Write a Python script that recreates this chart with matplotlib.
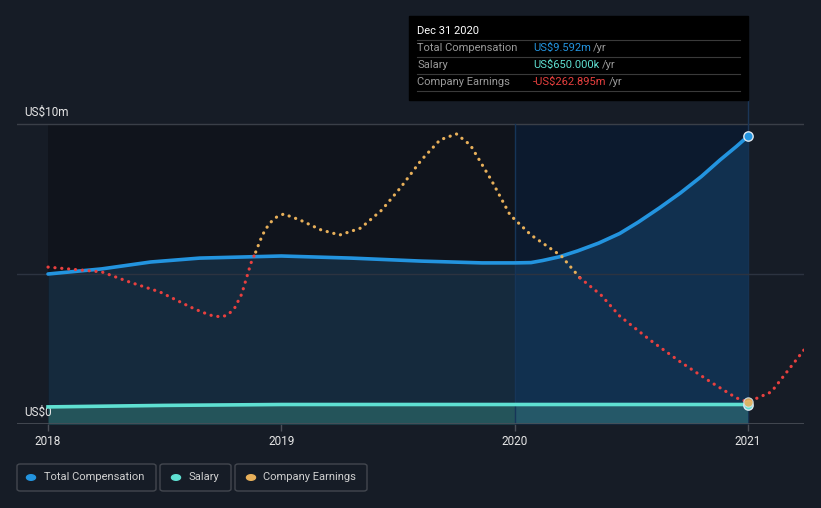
import matplotlib.pyplot as plt
from matplotlib.patches import FancyBboxPatch, Rectangle
import numpy as np

plt.rcParams['font.family'] = ['Roboto', 'DejaVu Sans']

# values in US$ millions
comp_x = [2018.00, 2018.23, 2018.44, 2018.65, 2019.00, 2019.30, 2019.60, 2019.86,
          2020.00, 2020.07, 2020.12, 2020.19, 2020.27, 2020.36, 2020.45, 2020.53,
          2020.62, 2020.71, 2020.80, 2020.88, 2020.95, 2021.00]
comp_y = [5.00, 5.17, 5.40, 5.53, 5.60, 5.53, 5.43, 5.37,
          5.37, 5.38, 5.45, 5.57, 5.77, 6.03, 6.35, 6.73,
          7.20, 7.70, 8.25, 8.80, 9.25, 9.592]

salary_x = [2018.0, 2018.5, 2019.0, 2020.0, 2021.0]
salary_y = [0.57, 0.62, 0.65, 0.65, 0.65]

# earnings drawn on the chart's own scale (its zero sits at 5.55)
earn_x = [2018.00, 2018.23, 2018.35, 2018.48, 2018.61, 2018.66, 2018.70, 2018.74,
          2018.77, 2018.80, 2018.83, 2018.85, 2018.87, 2018.89, 2018.91, 2018.93,
          2018.955, 2018.98, 2019.01, 2019.08, 2019.17, 2019.25,
          2019.34, 2019.43, 2019.51, 2019.60, 2019.68, 2019.75, 2019.81, 2019.90,
          2019.98, 2020.07, 2020.20, 2020.28, 2020.37, 2020.45, 2020.58, 2020.71,
          2020.84, 2020.95, 2021.00, 2021.10, 2021.18, 2021.25]
earn_y = [5.23, 5.07, 4.73, 4.40, 3.90, 3.73, 3.62, 3.57,
          3.63, 3.87, 4.33, 4.85, 5.37, 5.73, 6.13, 6.47,
          6.73, 6.90, 7.00, 6.80, 6.47, 6.30,
          6.53, 7.13, 7.87, 8.80, 9.47, 9.67, 9.30, 8.13,
          6.97, 6.30, 5.60, 4.87, 4.30, 3.60, 2.80, 2.07,
          1.40, 0.87, 0.73, 1.07, 1.87, 2.57]
earn_zero = 5.55

years = [2018, 2019, 2020, 2021]

BG = '#161c26'
BLUE = '#2394df'
TEAL = '#5fe0d2'
ORANGE = '#e8b05a'
RED = '#e8403f'

fig = plt.figure(figsize=(8.21, 5.08), dpi=100, facecolor=BG)
W, H = 821, 508
ax = fig.add_axes([17 / W, 1 - 424 / H, 787 / W, 408 / H])
ax.set_facecolor(BG)
ax.set_xlim(2017.867, 2021.24)
ax.set_ylim(0, 13.6)
for s in ax.spines.values():
    s.set_visible(False)

# background bands
ax.axvspan(2018, 2020, ymax=10 / 13.6, color='#10141c', zorder=0, lw=0)
ax.axvspan(2020, 2021, ymax=10 / 13.6, color='#0c1a2e', zorder=0, lw=0)

# grid
ax.axhline(10, color='#3a3f48', lw=1, zorder=1)
ax.axhline(5, color='#2c3340', lw=1, zorder=4)
ax.axhline(0, color='#4a4f58', lw=1.2, zorder=5)
ax.plot([2021, 2021], [0, 10.8], color='#1b3658', lw=1, zorder=1)
ax.plot([2020, 2020], [0, 10.0], color='#163558', lw=1, zorder=4)

# fills
cx = np.array(comp_x)
cy = np.array(comp_y)
left = cx <= 2020
right = cx >= 2020
ax.fill_between(cx[left], 0, cy[left], color='#152a3d', lw=0, zorder=2)
ax.fill_between(cx[right], 0, cy[right], color='#11304f', lw=0, zorder=2)
sx = np.array(salary_x)
sy = np.array(salary_y)
ax.fill_between(sx[sx <= 2020], 0, sy[sx <= 2020], color='#24545a', lw=0, zorder=3)
ax.fill_between(sx[sx >= 2020], 0, sy[sx >= 2020], color='#255868', lw=0, zorder=3)

ax.plot(comp_x, comp_y, color=BLUE, lw=2.6, zorder=6, solid_capstyle='round')
ax.plot(salary_x, salary_y, color=TEAL, lw=2.6, zorder=6)

# earnings: orange when positive, red when negative
ex = np.array(earn_x)
ey = np.array(earn_y)
above = ey > earn_zero
runs = []
start = 0
for i in range(1, len(ex)):
    if above[i] != above[start]:
        runs.append((start, i, above[start]))
        start = i
runs.append((start, len(ex) - 1, above[start]))
for a, b, up in runs:
    ax.plot(ex[a:b + 1], ey[a:b + 1], color=ORANGE if up else RED, lw=2.3,
            linestyle=(0, (0.05, 2.1)), dash_capstyle='round', zorder=7)

# end markers
ax.scatter([2021], [comp_y[-1]], s=45, color=BLUE, edgecolor='#dfe8f0', lw=1, zorder=9)
ax.scatter([2021], [salary_y[-1]], s=45, color=TEAL, edgecolor='#dfe8f0', lw=1, zorder=9)
ax.scatter([2021], [0.73], s=45, color=ORANGE, edgecolor='#cfe0e8', lw=0.8,
           alpha=0.9, zorder=10)

# ticks
ax.set_yticks([])
ax.set_xticks(years)
ax.set_xticklabels([str(y) for y in years])
ax.tick_params(axis='x', colors='#4a4f58', length=5, width=1, labelcolor='#e6e6e6',
               labelsize=8.5, pad=3)

ax.text(2017.897, 10.4, 'US$10m', color='#e6e6e6', fontsize=8.5, va='center')
ax.text(2017.897, 0.4, 'US$0', color='#e6e6e6', fontsize=8.5, va='center')

# tooltip


def fx(px):
    return px / W


def fy(py):
    return 1 - py / H


fig.patches.append(Rectangle((fx(409), fy(100)), 339 / W, 84 / H, transform=fig.transFigure,
                             color='black', zorder=20))
fig.text(fx(417), fy(31), 'Dec 31 2020', color='white', fontsize=8, va='center', zorder=21)
rows = [('Total Compensation', 'US$9.592m', BLUE, 593),
        ('Salary', 'US$650.000k', TEAL, 602),
        ('Company Earnings', '-US$262.895m', RED, 609)]
for i, (lab, val, col, yrx) in enumerate(rows):
    yy = 48 + i * 17
    fig.text(fx(417), fy(yy), lab, color='#9a9a9a', fontsize=8, va='center', zorder=21)
    fig.text(fx(533), fy(yy), val, color=col, fontsize=8, va='center', zorder=21)
    fig.text(fx(yrx), fy(yy), '/yr', color='#9a9a9a', fontsize=8, va='center', zorder=21)
for yy in [40, 57, 74, 91]:
    fig.lines.append(plt.Line2D([fx(417), fx(740)], [fy(yy), fy(yy)], color='#3a3a3a',
                                lw=0.8, transform=fig.transFigure, zorder=21))

# legend boxes
legend = [(17, 156, 31, 44, BLUE, 'Total Compensation'),
          (160, 231, 176, 188, TEAL, 'Salary'),
          (235, 367, 251, 263, ORANGE, 'Company Earnings')]
for x0, x1, dx, tx, col, lab in legend:
    fig.patches.append(FancyBboxPatch((fx(x0), fy(491)), (x1 - x0) / W, 27 / H,
                                      boxstyle='round,pad=0,rounding_size=0.004',
                                      transform=fig.transFigure, facecolor='none',
                                      edgecolor='#43474f', lw=1))
    fig.patches.append(plt.Circle((fx(dx), fy(477.5)), 0.0055, color=col,
                                  transform=fig.transFigure))
    fig.text(fx(tx), fy(477.5), lab, color='#d0d0d0', fontsize=8, va='center')

fig.savefig('out.png', dpi=100, facecolor=BG)
